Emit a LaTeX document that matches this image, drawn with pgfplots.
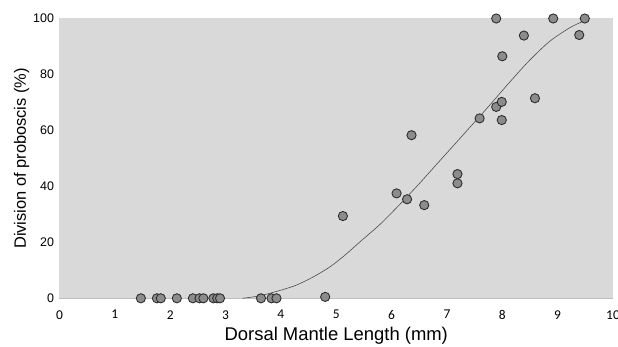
\documentclass[border=0pt]{standalone}
\usepackage{pgfplots}
\pgfplotsset{compat=1.18}
\usepackage{fontspec}
\setmainfont{Liberation Sans}
\newfontfamily\carlitofont{Carlito}
\definecolor{bg}{HTML}{D9D9D9}
\definecolor{axl}{HTML}{BFBFBF}
\definecolor{mk}{HTML}{8C8C8C}
\definecolor{mkd}{HTML}{2E2E2E}
\begin{document}
\begin{tikzpicture}
\useasboundingbox (-59.5bp,-48.7bp) rectangle (558.5bp,298.3bp);
\begin{axis}[
  at={(0,0)}, anchor=south west,
  width=553.5bp, height=279.8bp, scale only axis,
  xmin=0, xmax=10, ymin=0, ymax=100,
  xtick={0,1,...,10}, ytick={0,20,...,100},
  axis line style={draw=none},
  major tick length=0pt,
  axis background/.style={fill=bg},
  clip=false,
  xticklabel style={font=\carlitofont\fontsize{13.5}{14}\selectfont, yshift=-8.5bp},
  yticklabel style={font=\fontsize{12.5}{13}\selectfont, xshift=-2bp},
  /pgf/number format/assume math mode=true,
  xlabel={Dorsal Mantle Length (mm)},
  ylabel={Division of proboscis (\%)},
  xlabel style={font=\fontsize{18.5}{19}\selectfont, yshift=-1bp},
  ylabel style={font=\fontsize{16.5}{17}\selectfont, yshift=-3bp},
]
\draw[axl, line width=1.2bp] (axis cs:0,0) -- (axis cs:10,0);
\addplot[smooth, color=black!70, line width=0.6bp, mark=none] coordinates {
(3.31,0) (3.6,0.8) (3.8,1.8) (4.05,3.2) (4.29,4.8) (4.6,7.8) (4.89,11.3) (5.15,15.3) (5.43,20.2) (5.8,26.6) (6.15,33.6) (6.51,41.2) (6.8,47.6) (7.11,54.4) (7.4,60.8) (7.6,65.2) (7.78,69.2) (8.14,77.4) (8.5,85.2) (8.86,91.9) (9.22,96.7) (9.46,99.0) (9.5,99.2)
};
\addplot[only marks, mark=*, mark size=4.6bp, mark options={fill=mk, draw=mkd, line width=0.9bp}] coordinates {
(1.47,0) (1.76,0) (1.83,0) (2.12,0) (2.41,0) (2.53,0) (2.60,0) (2.78,0) (2.85,0) (2.90,0)
(3.64,0) (3.83,0) (3.92,0) (4.80,0.5)
(5.12,29.4) (6.09,37.5) (6.28,35.4) (6.59,33.3) (6.36,58.3)
(7.19,44.4) (7.19,41.1) (7.59,64.3) (7.89,68.4) (7.99,70.2) (7.99,63.7)
(8.59,71.5) (8.00,86.5) (7.89,100) (8.39,93.9) (8.92,100) (9.49,100) (9.39,94.1)
};
\end{axis}
\end{tikzpicture}
\end{document}
